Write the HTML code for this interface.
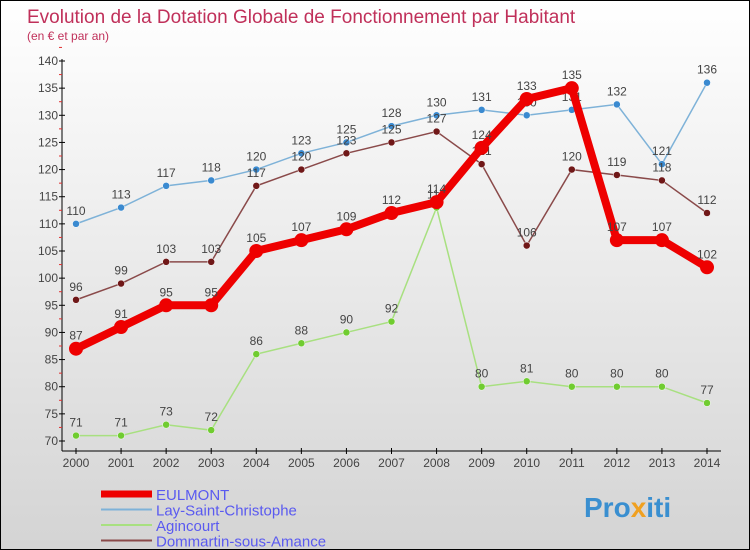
<!DOCTYPE html>
<html><head><meta charset="utf-8"><style>
body{margin:0}
#c{width:748px;height:548px;border:1px solid #000;background:linear-gradient(#fff,#d4d4d4);position:relative;overflow:hidden;font-family:"Liberation Sans",sans-serif}
svg{position:absolute;left:0;top:0}
</style></head><body>
<div id="c">
<svg id="s" width="750" height="550">
<text x="26" y="22" font-size="19" fill="#c0305a">Evolution de la Dotation Globale de Fonctionnement par Habitant</text>
<text x="26" y="39" font-size="12" fill="#c0305a">(en € et par an)</text>
<g id="axes"></g><g id="series"></g><g id="legend"></g>
<text x="583" y="516" font-size="28" font-weight="bold" fill="#3a8fd0">Pro<tspan fill="#f0a020">x</tspan>iti</text>
</svg></div>
<script>
const years=[2000,2001,2002,2003,2004,2005,2006,2007,2008,2009,2010,2011,2012,2013,2014];
const eulmont=[87,91,95,95,105,107,109,112,114,124,133,135,107,107,102];
const lay=[110,113,117,118,120,123,125,128,130,131,130,131,132,121,136];
const agincourt=[71,71,73,72,86,88,90,92,113,80,81,80,80,80,77];
const dommartin=[96,99,103,103,117,120,123,125,127,121,106,120,119,118,112];
const yTicks=[70,75,80,85,90,95,100,105,110,115,120,125,130,135,140];
const NS="http://www.w3.org/2000/svg";
const X=i=>75+i*(631/14), Y=v=>440-(v-70)*(380/70);
function mk(t,a,p){const e=document.createElementNS(NS,t);for(const k in a)e.setAttribute(k,a[k]);p.appendChild(e);return e;}
const ax=document.getElementById('axes');
let l=mk('line',{x1:61,y1:58,x2:61,y2:450,stroke:'#000'},ax);


l=mk('line',{x1:61,y1:450,x2:720,y2:450,stroke:'#000'},ax);


yTicks.forEach(v=>{mk('line',{x1:58,y1:Y(v),x2:64,y2:Y(v),stroke:'#000'},ax);
 mk('line',{x1:58,y1:Y(v+2.5),x2:61,y2:Y(v+2.5),stroke:'#e03030'},ax);
 const t=mk('text',{x:57,y:Y(v)+4,'font-size':12,'text-anchor':'end',fill:'#444'},ax);t.textContent=v;
 
 });
years.forEach((y,i)=>{mk('line',{x1:X(i),y1:447,x2:X(i),y2:453,stroke:'#000'},ax);
 const t=mk('text',{x:X(i),y:466,'font-size':12,'text-anchor':'middle',fill:'#444'},ax);t.textContent=y;
 
 });
const sg=document.getElementById('series');
const series=[
 {n:'lay-saint-christophe',d:lay,c:'#7eb2d8',dot:'#3a8ad0',w:1.5,r:3.5},
 {n:'agincourt',d:agincourt,c:'#a8e080',dot:'#70cc30',w:1.5,r:3.5},
 {n:'dommartin',d:dommartin,c:'#8a4a4a',dot:'#701818',w:1.5,r:3.5},
 {n:'eulmont',d:eulmont,c:'#ee0000',dot:'#ee0000',w:8,r:7}];
series.forEach(s=>{
 const p=mk('polyline',{points:s.d.map((v,i)=>X(i)+','+Y(v)).join(' '),fill:'none',stroke:s.c,'stroke-width':s.w},sg);
 
 
 s.d.forEach((v,i)=>{const c=mk('circle',{cx:X(i),cy:Y(v),r:s.r,fill:s.dot,stroke:s.r>5?'none':'#fff','stroke-width':0.5},sg);
  
  
  const t=mk('text',{x:X(i),y:Y(v)-9,'font-size':12,'text-anchor':'middle',fill:'#444'},sg);t.textContent=v;
  
  });
});
const lg=document.getElementById('legend');
[['EULMONT','#ee0000',7],['Lay-Saint-Christophe','#7eb2d8',2],['Agincourt','#a8e080',2],['Dommartin-sous-Amance','#8a4a4a',2]].forEach((e,i)=>{
 const y=493+i*15.5;
 mk('line',{x1:100,y1:y,x2:151,y2:y,stroke:e[1],'stroke-width':e[2]},lg);
 const t=mk('text',{x:155,y:y+6,'font-size':15,fill:'#5a5af0'},lg);t.textContent=e[0];
 
 });
</script></body></html>
